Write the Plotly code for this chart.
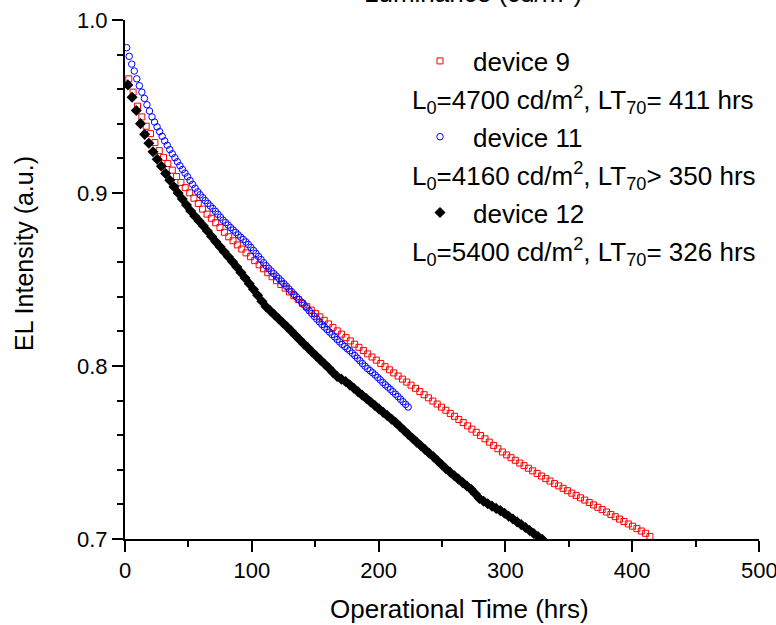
import plotly.graph_objects as go

# ---------------- data ----------------
device9_t = [3.0, 6.4, 9.9, 13.3, 16.7, 20.1, 23.6, 27.0, 30.4, 33.8, 37.3, 40.7, 44.1, 47.5, 51.0,
             54.4, 57.8, 61.2, 64.7, 68.1, 71.5, 74.9, 78.4, 81.8, 85.2, 88.6, 92.1, 95.5, 98.9,
             102.3, 105.8, 109.2, 112.6, 116.0, 119.5, 122.9, 126.3, 129.7, 133.2, 136.6, 140.0,
             143.4, 146.9, 150.3, 153.7, 157.1, 160.6, 164.0, 167.4, 170.8, 174.3, 177.7, 181.1,
             184.5, 188.0, 191.4, 194.8, 198.2, 201.7, 205.1, 208.5, 211.9, 215.4, 218.8, 222.2,
             225.6, 229.1, 232.5, 235.9, 239.3, 242.8, 246.2, 249.6, 253.0, 256.5, 259.9, 263.3,
             266.7, 270.2, 273.6, 277.0, 280.4, 283.9, 287.3, 290.7, 294.1, 297.6, 301.0, 304.4,
             307.8, 311.3, 314.7, 318.1, 321.5, 325.0, 328.4, 331.8, 335.2, 338.7, 342.1, 345.5,
             348.9, 352.4, 355.8, 359.2, 362.6, 366.1, 369.5, 372.9, 376.3, 379.8, 383.2, 386.6,
             390.0, 393.5, 396.9, 400.3, 403.7, 407.2, 410.6, 414.0]
device9_v = [0.9660, 0.9583, 0.9502, 0.9440, 0.9386, 0.9343, 0.9292, 0.9245, 0.9206, 0.9170,
             0.9132, 0.9095, 0.9061, 0.9031, 0.9001, 0.8970, 0.8939, 0.8907, 0.8878, 0.8854,
             0.8828, 0.8801, 0.8773, 0.8747, 0.8724, 0.8700, 0.8676, 0.8654, 0.8632, 0.8609,
             0.8585, 0.8562, 0.8539, 0.8516, 0.8493, 0.8471, 0.8450, 0.8428, 0.8406, 0.8384,
             0.8362, 0.8343, 0.8323, 0.8303, 0.8284, 0.8264, 0.8243, 0.8223, 0.8203, 0.8184,
             0.8164, 0.8145, 0.8126, 0.8108, 0.8089, 0.8070, 0.8052, 0.8034, 0.8015, 0.7996,
             0.7978, 0.7960, 0.7942, 0.7924, 0.7907, 0.7889, 0.7871, 0.7852, 0.7834, 0.7816,
             0.7797, 0.7780, 0.7762, 0.7744, 0.7726, 0.7709, 0.7691, 0.7673, 0.7654, 0.7635,
             0.7617, 0.7598, 0.7579, 0.7560, 0.7541, 0.7522, 0.7503, 0.7486, 0.7470, 0.7455,
             0.7439, 0.7424, 0.7409, 0.7394, 0.7379, 0.7364, 0.7349, 0.7335, 0.7320, 0.7307,
             0.7293, 0.7279, 0.7265, 0.7252, 0.7238, 0.7225, 0.7211, 0.7197, 0.7183, 0.7170,
             0.7156, 0.7142, 0.7129, 0.7115, 0.7101, 0.7087, 0.7074, 0.7060, 0.7046, 0.7033,
             0.7015]

device11_t = [1.3, 3.3, 5.3, 7.3, 9.3, 11.3, 13.3, 15.3, 17.3, 19.3, 21.3, 23.3, 25.3, 27.3, 29.3,
              31.3, 33.3, 35.3, 37.3, 39.3, 41.3, 43.3, 45.3, 47.3, 49.3, 51.3, 53.3, 55.3, 57.3,
              59.3, 61.3, 63.3, 65.3, 67.3, 69.3, 71.3, 73.3, 75.3, 77.3, 79.3, 81.3, 83.3, 85.3,
              87.3, 89.3, 91.3, 93.3, 95.3, 97.3, 99.3, 101.3, 103.3, 105.3, 107.3, 109.3, 111.3,
              113.3, 115.3, 117.3, 119.3, 121.3, 123.3, 125.3, 127.3, 129.3, 131.3, 133.3, 135.3,
              137.3, 139.3, 141.3, 143.3, 145.3, 147.3, 149.3, 151.3, 153.3, 155.3, 157.3, 159.3,
              161.3, 163.3, 165.3, 167.3, 169.3, 171.3, 173.3, 175.3, 177.3, 179.3, 181.3, 183.3,
              185.3, 187.3, 189.3, 191.3, 193.3, 195.3, 197.3, 199.3, 201.3, 203.3, 205.3, 207.3,
              209.3, 211.3, 213.3, 215.3, 217.3, 219.3, 221.3, 223.3]
device11_v = [0.9840, 0.9790, 0.9745, 0.9705, 0.9660, 0.9620, 0.9583, 0.9547, 0.9510, 0.9474,
              0.9440, 0.9410, 0.9382, 0.9355, 0.9328, 0.9301, 0.9276, 0.9251, 0.9227, 0.9204,
              0.9181, 0.9158, 0.9136, 0.9115, 0.9094, 0.9072, 0.9050, 0.9028, 0.9007, 0.8990,
              0.8973, 0.8956, 0.8940, 0.8925, 0.8910, 0.8894, 0.8877, 0.8860, 0.8843, 0.8829,
              0.8815, 0.8800, 0.8786, 0.8772, 0.8758, 0.8744, 0.8731, 0.8717, 0.8702, 0.8685,
              0.8668, 0.8651, 0.8633, 0.8615, 0.8597, 0.8580, 0.8564, 0.8549, 0.8534, 0.8520,
              0.8506, 0.8491, 0.8476, 0.8461, 0.8445, 0.8430, 0.8414, 0.8399, 0.8384, 0.8368,
              0.8352, 0.8336, 0.8319, 0.8303, 0.8287, 0.8271, 0.8255, 0.8240, 0.8225, 0.8211,
              0.8196, 0.8182, 0.8168, 0.8153, 0.8139, 0.8125, 0.8113, 0.8100, 0.8088, 0.8074,
              0.8060, 0.8045, 0.8030, 0.8014, 0.7999, 0.7985, 0.7973, 0.7961, 0.7948, 0.7934,
              0.7920, 0.7905, 0.7891, 0.7878, 0.7865, 0.7851, 0.7837, 0.7823, 0.7808, 0.7793,
              0.7778, 0.7763]

device12_t = [2.3, 5.6, 8.9, 12.2, 15.5, 18.8, 22.1, 25.4, 28.7, 32.0, 35.3, 38.6, 41.9, 45.2,
              48.5, 51.8, 55.1, 58.4, 61.7, 65.0, 68.3, 71.6, 74.9, 78.2, 81.5, 84.8, 88.1, 91.4,
              94.7, 98.0, 101.3, 104.6, 107.9, 111.2, 114.5, 117.8, 121.1, 124.4, 127.7, 131.0,
              134.3, 137.6, 140.9, 144.2, 147.5, 150.8, 154.1, 157.4, 160.7, 164.0, 167.3, 170.6,
              173.9, 177.2, 180.5, 183.8, 187.1, 190.4, 193.7, 197.0, 200.3, 203.6, 206.9, 210.2,
              213.5, 216.8, 220.1, 223.4, 226.7, 230.0, 233.3, 236.6, 239.9, 243.2, 246.5, 249.8,
              253.1, 256.4, 259.7, 263.0, 266.3, 269.6, 272.9, 276.2, 279.5, 282.8, 286.1, 289.4,
              292.7, 296.0, 299.3, 302.6, 305.9, 309.2, 312.5, 315.8, 319.1, 322.4, 325.7, 329.0]
device12_v = [0.9625, 0.9554, 0.9477, 0.9401, 0.9339, 0.9288, 0.9238, 0.9195, 0.9155, 0.9113,
              0.9074, 0.9036, 0.9000, 0.8965, 0.8930, 0.8896, 0.8866, 0.8838, 0.8810, 0.8780,
              0.8749, 0.8718, 0.8689, 0.8660, 0.8632, 0.8602, 0.8572, 0.8541, 0.8509, 0.8476,
              0.8443, 0.8409, 0.8374, 0.8342, 0.8319, 0.8296, 0.8273, 0.8250, 0.8227, 0.8203,
              0.8178, 0.8153, 0.8128, 0.8105, 0.8081, 0.8058, 0.8035, 0.8012, 0.7988, 0.7963,
              0.7939, 0.7924, 0.7910, 0.7891, 0.7871, 0.7851, 0.7831, 0.7812, 0.7792, 0.7772,
              0.7752, 0.7732, 0.7713, 0.7693, 0.7673, 0.7650, 0.7627, 0.7604, 0.7582, 0.7560,
              0.7539, 0.7517, 0.7496, 0.7475, 0.7452, 0.7429, 0.7406, 0.7386, 0.7366, 0.7346,
              0.7326, 0.7306, 0.7287, 0.7262, 0.7234, 0.7218, 0.7204, 0.7190, 0.7177, 0.7164,
              0.7149, 0.7132, 0.7116, 0.7099, 0.7083, 0.7066, 0.7049, 0.7032, 0.7015, 0.6999]

series_names = ["device 9", "device 11", "device 12"]
series_notes = ["L<sub>0</sub>=4700 cd/m<sup>2</sup>, LT<sub>70</sub>= 411 hrs",
                "L<sub>0</sub>=4160 cd/m<sup>2</sup>, LT<sub>70</sub>&gt; 350 hrs",
                "L<sub>0</sub>=5400 cd/m<sup>2</sup>, LT<sub>70</sub>= 326 hrs"]
x_ticks = [0, 100, 200, 300, 400, 500]
y_ticks = [0.7, 0.8, 0.9, 1.0]

FONT = "Arial, 'Liberation Sans', sans-serif"

fig = go.Figure()
fig.add_trace(go.Scatter(x=device9_t, y=device9_v, mode="markers", name=series_names[0],
                         legendgroup="g9",
                         marker=dict(symbol="square-open", size=6, color="#ff0000",
                                     line=dict(width=1, color="#ff0000"))))
fig.add_trace(go.Scatter(x=device11_t, y=device11_v, mode="markers", name=series_names[1],
                         legendgroup="g11",
                         marker=dict(symbol="circle-open", size=6.5, color="#0000ff",
                                     line=dict(width=1, color="#0000ff"))))
fig.add_trace(go.Scatter(x=device12_t, y=device12_v, mode="markers", name=series_names[2],
                         legendgroup="g12",
                         marker=dict(symbol="diamond", size=8.5, color="#000000",
                                     line=dict(width=0))))

L, R, T, B = 125, 17, 20, 86
PW, PH = 776 - L - R, 625 - T - B


def px_to_paper(xp, yp):
    return (xp - L) / PW, (625 - B - yp) / PH


annotations = []
for i, note in enumerate(series_notes):
    ax, ay = px_to_paper(410, 100 + 76 * i)
    annotations.append(dict(text=note, x=ax, y=ay, xref="paper", yref="paper",
                            xanchor="left", yanchor="middle", showarrow=False,
                            font=dict(size=26, color="black", family=FONT)))

tx, ty = px_to_paper(459, 609)
annotations.append(dict(text="Operational Time (hrs)", x=tx, y=ty, xref="paper", yref="paper",
                        xanchor="center", yanchor="middle", showarrow=False,
                        font=dict(size=26, color="black", family=FONT)))
yx, yy = px_to_paper(24, 254)
annotations.append(dict(text="EL Intensity (a.u.)", x=yx, y=yy, xref="paper", yref="paper",
                        xanchor="center", yanchor="middle", showarrow=False, textangle=-90,
                        font=dict(size=25, color="black", family=FONT)))
lx, ly = px_to_paper(473, -8)
annotations.append(dict(text="Luminance (cd/m<sup>2</sup>)", x=lx, y=ly, xref="paper", yref="paper",
                        xanchor="center", yanchor="middle", showarrow=False,
                        font=dict(size=26, color="black", family=FONT)))
# last x tick label sits on the figure edge (partly cut off, as in the reference)
_, ey = px_to_paper(0, 570)
annotations.append(dict(text=str(x_ticks[-1]), x=x_ticks[-1], y=ey, xref="x", yref="paper",
                        xanchor="center", yanchor="middle", showarrow=False,
                        font=dict(size=22, color="black", family=FONT)))

legx, legy = px_to_paper(407, 37.5)

fig.update_layout(
    width=776, height=625,
    margin=dict(l=L, r=R, t=T, b=B, pad=0),
    paper_bgcolor="white", plot_bgcolor="white",
    font=dict(family=FONT, size=22, color="black"),
    showlegend=True,
    legend=dict(x=legx, y=legy, xanchor="left", yanchor="top",
                font=dict(size=26, color="black", family=FONT),
                bgcolor="rgba(0,0,0,0)", borderwidth=0,
                traceorder="grouped", tracegroupgap=39, itemwidth=56),
    annotations=annotations,
    xaxis=dict(range=[0, 500], tickvals=x_ticks,
               ticktext=[str(v) for v in x_ticks[:-1]] + [""],
               showline=True, linecolor="black", linewidth=2, automargin=False,
               ticks="outside", ticklen=11, tickwidth=2, tickcolor="black",
               minor=dict(dtick=50, ticks="outside", ticklen=6, tickwidth=2, tickcolor="black"),
               showgrid=False, zeroline=False, tickfont=dict(size=22)),
    yaxis=dict(range=[0.7, 1.0], tickvals=y_ticks, ticktext=["%.1f" % v for v in y_ticks],
               showline=True, linecolor="black", linewidth=2, automargin=False,
               ticks="outside", ticklen=11, tickwidth=2, tickcolor="black",
               minor=dict(dtick=0.02, tick0=0.7, ticks="outside", ticklen=6, tickwidth=2, tickcolor="black"),
               showgrid=False, zeroline=False, tickfont=dict(size=22)),
)

fig.write_html("out.html",
               config={"displayModeBar": False},
               post_script="document.body.style.margin='0';document.body.style.overflow='hidden';")
